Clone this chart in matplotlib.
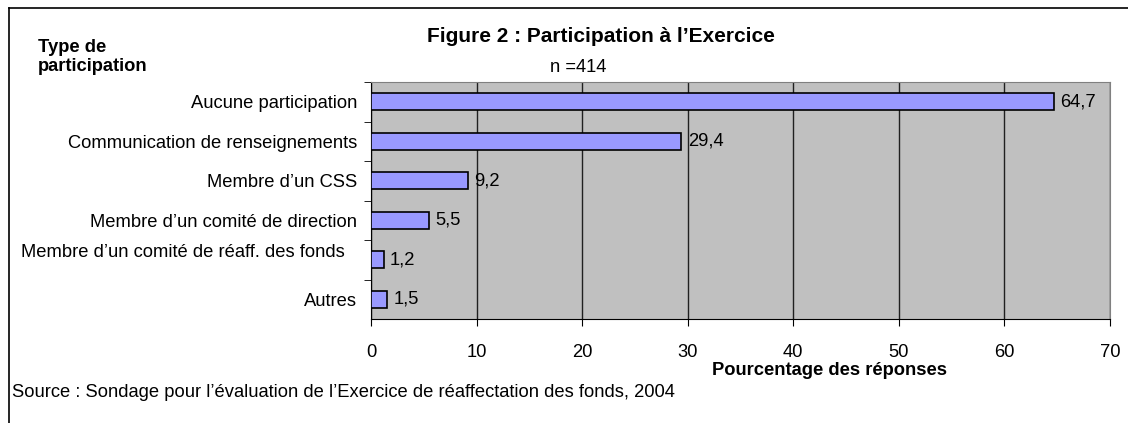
import matplotlib.pyplot as plt
import matplotlib.transforms as mtransforms

plt.rcParams['font.family'] = ['Liberation Sans', 'DejaVu Sans']

categories = ['Aucune participation', 'Communication de renseignements', 'Membre d\u2019un CSS',
              'Membre d\u2019un comit\u00e9 de direction', 'Membre d\u2019un comit\u00e9 de r\u00e9aff. des fonds',
              'Autres']
values = [64.7, 29.4, 9.2, 5.5, 1.2, 1.5]
value_labels = ['64,7', '29,4', '9,2', '5,5', '1,2', '1,5']
x_ticks = [0, 10, 20, 30, 40, 50, 60, 70]

FS = 13.2

fig = plt.figure(figsize=(11.28, 4.23), dpi=100)
ax = fig.add_axes([371 / 1128, 1 - 319 / 423, (1110 - 371) / 1128, (319 - 82) / 423])
ax.set_facecolor('#c0c0c0')

pos = list(range(len(categories)))[::-1]
ax.barh(pos, values, height=0.42, color='#9999ff', edgecolor='black', linewidth=1.2, zorder=3)
for p, v, lab in zip(pos, values, value_labels):
    ax.text(v + 0.6, p, lab, va='center', ha='left', fontsize=FS, zorder=4)

ax.set_xlim(0, 70)
ax.set_ylim(-0.5, len(categories) - 0.5)
ax.set_xticks(x_ticks)
ax.set_xticklabels([str(t) for t in x_ticks], fontsize=FS)
ax.set_yticks(pos)
ax.set_yticklabels(categories, fontsize=FS)
ax.tick_params(axis='y', length=0, pad=10)
ax.tick_params(axis='x', length=5, pad=13, direction='out')
ax.set_yticks([p + 0.5 for p in range(len(categories))], minor=True)
ax.tick_params(axis='y', which='minor', length=5, direction='out')
ax.grid(axis='x', color='#202020', linewidth=1, zorder=1)
for s in ax.spines.values():
    s.set_color('#808080')
ax.spines['left'].set_color('black')
ax.spines['bottom'].set_color('black')

# slight upward shift of the fifth label, as in the original
lbl = ax.get_yticklabels()[4]
lbl.set_transform(lbl.get_transform() + mtransforms.ScaledTranslation(-0.12, 0.09, fig.dpi_scale_trans))

ax.set_xlabel('Pourcentage des r\u00e9ponses', fontsize=FS, fontweight='bold')
ax.xaxis.set_label_coords((829 - 371) / (1110 - 371), -(370 - 319) / (319 - 82))
ax.xaxis.label.set_va('center')

fig.text(601 / 1128, 1 - 37 / 423, 'Figure 2 : Participation \u00e0 l\u2019Exercice', ha='center', va='center',
         fontsize=15, fontweight='bold')
fig.text(578 / 1128, 1 - 67 / 423, 'n =414', ha='center', va='center', fontsize=FS)
fig.text(38 / 1128, 1 - 57 / 423, 'Type de\nparticipation', ha='left', va='center', fontsize=FS,
         fontweight='bold', linespacing=1.15)
fig.text(12 / 1128, 1 - 392 / 423, 'Source : Sondage pour l\u2019\u00e9valuation de l\u2019Exercice de r\u00e9affectation des fonds, 2004',
         ha='left', va='center', fontsize=FS)

# outer frame (top and left only)
fig.add_artist(plt.Line2D([9 / 1128, 1], [1 - 8 / 423, 1 - 8 / 423], color='black', linewidth=1.2,
                          transform=fig.transFigure))
fig.add_artist(plt.Line2D([9 / 1128, 9 / 1128], [0, 1 - 8 / 423], color='black', linewidth=1.2,
                          transform=fig.transFigure))

fig.savefig('out.png', dpi=100)
